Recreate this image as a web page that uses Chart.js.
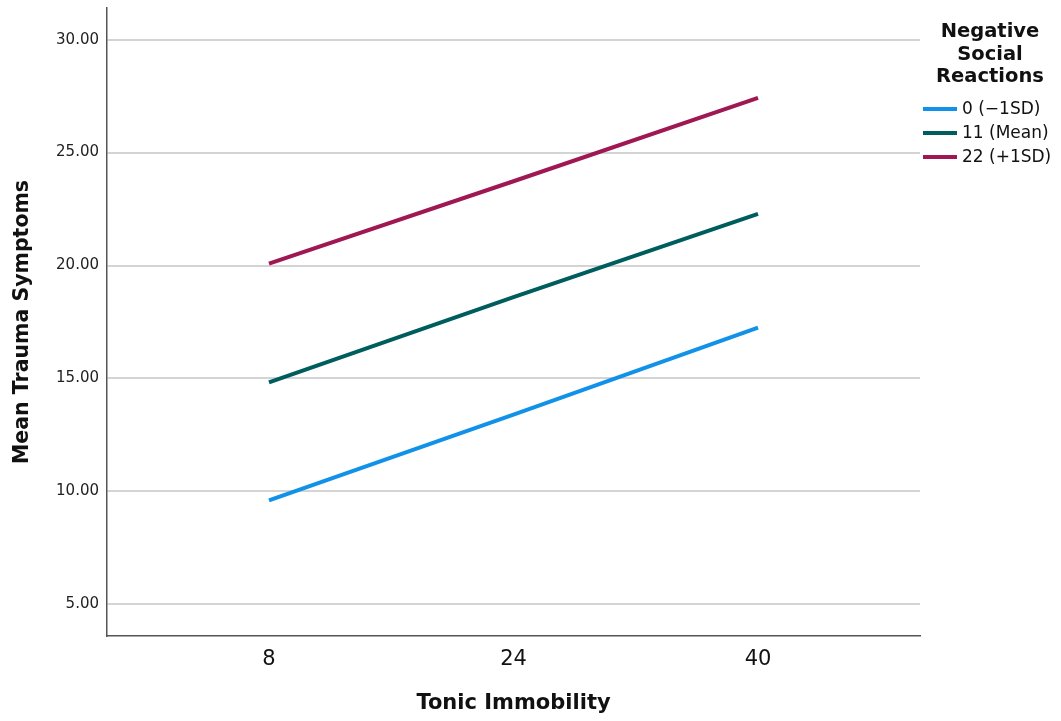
<!DOCTYPE html>
<html>
<head>
<meta charset="utf-8">
<script src="https://cdn.jsdelivr.net/npm/chart.js@4/dist/chart.umd.min.js"></script>
<style>
  html, body { margin: 0; padding: 0; background: #fff; }
  #wrap { width: 1061px; height: 721px; position: relative; }
</style>
</head>
<body>
<div id="wrap"><canvas id="myChart"></canvas></div>
<script>
// Values
var tonicImmobility = [8, 24, 40];
var yTickValues = [5, 10, 15, 20, 25, 30];
var groupLabels = ["0 (\u22121SD)", "11 (Mean)", "22 (+1SD)"];
var lowNSR = [9.6, 13.4, 17.25];
var meanNSR = [14.83, 18.6, 22.29];
var highNSR = [20.08, 23.73, 27.42];
var legendTitle = ["Negative", "Social", "Reactions"];

var colors = ["#1192e8", "#005d5d", "#9f1853"];
var FONT = "'DejaVu Sans', sans-serif";

function points(values) {
  return tonicImmobility.map(function (x, i) { return {x: x, y: values[i]}; });
}

// legend is drawn by hand so the title can wrap on three lines
var sideLegend = {
  id: "sideLegend",
  afterDraw: function (chart) {
    var ctx = chart.ctx;
    ctx.save();
    ctx.fillStyle = "#111";
    ctx.textAlign = "center";
    ctx.textBaseline = "middle";
    ctx.font = "bold 19.5px " + FONT;
    legendTitle.forEach(function (t, i) {
      ctx.fillText(t, 990, 32 + i * 22.5);
    });
    ctx.textAlign = "left";
    ctx.font = "17px " + FONT;
    chart.data.datasets.forEach(function (ds, i) {
      var y = 109 + i * 24;
      ctx.strokeStyle = ds.borderColor;
      ctx.lineWidth = 4;
      ctx.beginPath();
      ctx.moveTo(923, y);
      ctx.lineTo(957, y);
      ctx.stroke();
      ctx.fillStyle = "#111";
      ctx.fillText(ds.label, 962, y + 1);
    });
    ctx.restore();
  }
};

new Chart("myChart", {
  type: "line",
  data: {
    datasets: [
      {label: groupLabels[0], data: points(lowNSR), borderColor: colors[0]},
      {label: groupLabels[1], data: points(meanNSR), borderColor: colors[1]},
      {label: groupLabels[2], data: points(highNSR), borderColor: colors[2]}
    ]
  },
  options: {
    responsive: true,
    maintainAspectRatio: false,
    animation: false,
    layout: {padding: {top: 8, right: 141, left: 0, bottom: 0}},
    elements: {
      line: {borderWidth: 4, tension: 0, fill: false, borderCapStyle: "butt"},
      point: {radius: 0, hoverRadius: 0}
    },
    plugins: {
      legend: {display: false},
      tooltip: {enabled: false}
    },
    scales: {
      x: {
        type: "linear",
        min: -2.6,
        max: 50.6,
        afterBuildTicks: function (scale) {
          scale.ticks = tonicImmobility.map(function (v) { return {value: v}; });
        },
        afterFit: function (scale) {
          scale.height = 85;
          scale.paddingLeft = 0;
          scale.paddingRight = 0;
        },
        grid: {display: false, drawTicks: false},
        border: {display: true, color: "#555", width: 1.5},
        ticks: {
          padding: 11,
          color: "#111",
          font: {family: FONT, size: 21},
          maxRotation: 0,
          callback: function (v) { return v; }
        },
        title: {
          display: true,
          text: "Tonic Immobility",
          color: "#111",
          font: {family: FONT, size: 21, weight: "bold"},
          padding: {top: 0, bottom: 5}
        }
      },
      y: {
        min: 3.6,
        max: 31.4,
        afterBuildTicks: function (scale) {
          scale.ticks = yTickValues.map(function (v) { return {value: v}; });
        },
        afterFit: function (scale) {
          scale.width = 107;
          scale.paddingTop = 0;
          scale.paddingBottom = 0;
        },
        grid: {display: true, color: "#d4d4d4", lineWidth: 2, drawTicks: false},
        border: {display: true, color: "#555", width: 1.5},
        ticks: {
          padding: 8,
          color: "#222",
          font: {family: FONT, size: 15},
          callback: function (v) { return v.toFixed(2); }
        },
        title: {
          display: true,
          text: "Mean Trauma Symptoms",
          color: "#111",
          font: {family: FONT, size: 20.5, weight: "bold"},
          padding: {top: 10, bottom: 0}
        }
      }
    }
  },
  plugins: [sideLegend]
});
</script>
</body>
</html>
